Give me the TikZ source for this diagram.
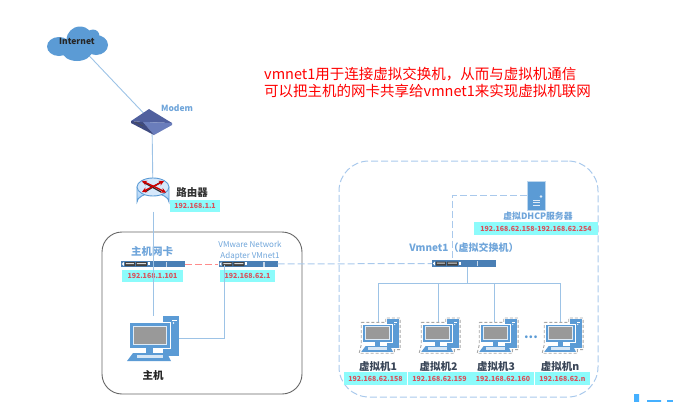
\documentclass[tikz,border=0pt]{standalone}
\usepackage{fontspec}
\setmainfont{Noto Sans CJK SC}
\usetikzlibrary{arrows.meta}
\definecolor{iconblue}{HTML}{5B9BD5}
\definecolor{linkblue}{HTML}{9DC3E6}
\definecolor{dashblue}{HTML}{A9C9EC}
\definecolor{labelblue}{HTML}{6FA5DA}
\definecolor{ipcyan}{HTML}{8CFBFB}
\definecolor{ipred}{HTML}{D9505A}
\definecolor{barblue}{HTML}{4A7FB5}
\definecolor{darklabel}{HTML}{3A4658}
\definecolor{modemdark}{HTML}{50609E}
\definecolor{modemlight}{HTML}{6A7DBB}
\definecolor{modemedge}{HTML}{3E4A80}
\definecolor{scrapblue}{HTML}{45B0FF}
\definecolor{routerpale}{HTML}{D6E8FB}
\definecolor{routerbody}{HTML}{9CCBF5}
\newcommand{\pcbody}{
	\fill[iconblue] (10,-23) rectangle (26,17);
	\fill[white] (19,-19) rectangle (24,-18);
	\fill[white] (20.5,-16) circle (.9);
	\fill[iconblue,draw=white,line width=.5pt] (-24,-17) rectangle (17,9);
	\fill[black!40,draw=white!80!iconblue,line width=.8pt] (-20,-13) rectangle (13,5);
	\fill[iconblue] (-7,9) rectangle (0,14);
	\fill[iconblue] (-20,14) -- (14,14) -- (18,22) -- (-26,22) -- cycle;
	\fill[white!75!iconblue] (-16,15.5) rectangle (10,19);
}
\tikzset{
	link/.style={draw=linkblue, line width=.9pt},
	dashlink/.style={draw=dashblue, line width=1pt, dash pattern=on 7pt off 3pt},
	anchorbox/.style={inner sep=0pt, minimum width=#1},
	ipbox/.style={fill=ipcyan, text=ipred, inner sep=0pt, minimum height=12pt, font=\fontsize{7}{9}\selectfont\bfseries},
	nicbar/.style={fill=barblue, inner sep=0pt, minimum height=6.5pt, minimum width=#1},
	bluelabel/.style={text=labelblue, inner sep=0pt, font=\fontsize{10.5}{12}\selectfont\bfseries},
	darktag/.style={text=darklabel, inner sep=0pt, font=\fontsize{10.5}{12}\selectfont\bfseries},
	nicports/.pic={
		\fill[white] (1,0) -- (3,-2) -- (3,2) -- cycle;
		\fill[black!75] (4,-2) rectangle (14,2) (15,-2) rectangle (26,2);
		\fill[white!85!black] (5,-1) rectangle (13,0) (16,-1) rectangle (25,0);
		\fill[white] (27,-2) rectangle (29,1);
		\fill[white!70!barblue] (45,-2.5) rectangle (46.5,2.5);
	},
	pcicon/.pic={\pcbody},
	vmicon/.pic={
		\draw[black!35,densely dashed,line width=.9pt] (-26,-19) -- (8,-19) -- (8,-25) -- (28,-25) -- (28,19) -- (20,19) -- (20,24) -- (-29,24) -- (-26,12) -- cycle;
		\pcbody
	},
	servericon/.pic={
		\fill[iconblue,draw=white!60!iconblue,line width=.6pt] (-9,-14.5) rectangle (9,14.5);
		\fill[white!80!iconblue] (5,1) circle (1.4);
		\draw[white!80!iconblue,line width=.7pt] (-3,4.5) -- (4,4.5) (-3,7) -- (4,7) (-3,9.5) -- (4,9.5);
	},
	modemicon/.pic={
		\fill[modemdark] (-3,-13) -- (20,1) -- (-9,0) -- (-21,-1) -- cycle;
		\fill[modemlight] (-9,0) -- (20,1) -- (20,3) -- (2,13) -- cycle;
		\fill[modemedge] (-21,-1) -- (-9,0) -- (2,13) -- (-21,1) -- cycle;
		\draw[black!70,line width=.5pt] (-17,0) -- (-9,4);
	},
	routericon/.pic={
		\draw[iconblue,line width=.9pt,top color=routerpale,bottom color=routerbody] (-16,-8) -- (-16,7) arc[start angle=180,end angle=360,x radius=16,y radius=8.5] -- (16,-8) -- cycle;
		\draw[iconblue,line width=.9pt,fill=routerpale] (0,-8) ellipse[x radius=16,y radius=9];
		\draw[black!85,line width=1.2pt] (-10,-13) -- (8,-3) (-8,-3) -- (8,-13);
		\draw[red!80!black,line width=1.4pt,-{Stealth[length=5pt,width=5pt]}] (-2,-7.5) -- (11,-14);
		\draw[red!80!black,line width=1.4pt,-{Stealth[length=5pt,width=5pt]}] (-2,-7.5) -- (-11,-3);
		\draw[red!80!black,line width=1.4pt,-{Stealth[length=5pt,width=5pt]}] (2,-8) -- (13,-2.5);
		\draw[red!80!black,line width=1.4pt,-{Stealth[length=5pt,width=5pt]}] (2,-8) -- (-11,-14);
	},
	cloudicon/.pic={
		\fill[iconblue] (2,-4) circle (13.5);
		\fill[iconblue] (-19,2.5) ellipse[x radius=12,y radius=9.5];
		\fill[iconblue] (18,1) ellipse[x radius=12,y radius=10];
		\fill[iconblue] (15,-8) circle (6.5);
		\fill[iconblue] (-1,7) ellipse[x radius=15,y radius=10];
	},
}
\begin{document}
\begin{tikzpicture}[x=1pt,y=-1pt]
	\useasboundingbox (0,0) rectangle (673,402);
	% top of the network
	\node[anchorbox=60pt, minimum height=34pt] (internet) at (78,44) {};
	\node[anchorbox=40pt, minimum height=26pt] (modem) at (152,122) {};
	\node[anchorbox=33pt, minimum height=33pt] (router) at (153,195) {};
	\node[anchorbox=52pt, minimum height=45pt] (host) at (153,339) {};
	\node[draw=black!60, line width=.9pt, rounded corners=20pt, inner sep=0pt, minimum width=200pt, minimum height=162pt] (hostbox) at (202,313) {};
	\node[dashlink, draw, rounded corners=30pt, inner sep=0pt, minimum width=259pt, minimum height=236pt] (vmbox) at (468.5,279) {};

	\draw[link] (internet.center) -- (modem.center);
	\draw[link] (modem.center) -- (router.center);
	\pic at (internet) {cloudicon};
	\node[inner sep=0pt, font=\fontsize{8.5}{10}\selectfont\bfseries, text=black!85] (inetlabel) at (77,41) {Internet};
	\pic at (modem) {modemicon};
	\node[bluelabel, font=\fontsize{8.5}{10}\selectfont\bfseries] (modemlabel) at (177,108) {Modem};

	% switches and cards
	\node[nicbar=64pt] (nica) at (153,264) {};
	\node[nicbar=59pt] (nicb) at (248,264) {};
	\node[nicbar=64pt] (vsw) at (464,263.5) {};
	\pic at (nica.west) {nicports};
	\pic at (nicb.west) {nicports};
	\pic at (vsw.west) {nicports};
	\draw[dash pattern=on 7pt off 3pt, draw=red!45, line width=1pt] (nica) -- (nicb);
	\draw[dashlink] (nicb) -- (vsw);

	\pic at (router) {routericon};
	\node[inner sep=0pt, text=black!80, font=\fontsize{10.5}{12}\selectfont\bfseries] (routerlabel) at (192,193) {路由器};
	\node[ipbox, minimum width=50pt] (routerip) at (195,206) {192.168.1.1};
	\node[bluelabel] (nicalabel) at (152,251) {主机网卡};
	\node[text=labelblue, inner sep=0pt, align=center, font=\fontsize{8}{11}\selectfont] (nicblabel) at (250,250.5) {VMware Network\\Adapter VMnet1};
	\node[ipbox, minimum width=61pt] (nicaip) at (152.5,275.5) {192.168.1.101};
	\node[ipbox, minimum width=55pt] (nicbip) at (247.5,275.5) {192.168.62.1};

	% host
	\draw[link] (router) -- (host);
	\coordinate (hostport) at (179,338);
	\coordinate (nicbdrop) at (224,265);
	\draw[link] (nicbdrop) |- (hostport);
	\pic at (host) {pcicon};
	\node[inner sep=0pt, text=black!85, font=\fontsize{10.5}{12}\selectfont\bfseries] (hostlabel) at (153,375) {主机};

	% virtual side
	\node[anchorbox=18pt, minimum height=29pt] (dhcp) at (536,195.5) {};
	\coordinate (vswtop) at (452,260);
	\draw[dashlink] (dhcp.west) -| (vswtop);
	\pic at (dhcp) {servericon};
	\node[bluelabel, font=\fontsize{8.8}{10}\selectfont\bfseries] (dhcplabel) at (538,216) {虚拟DHCP服务器};
	\node[ipbox, minimum width=124pt, minimum height=13pt] (dhcpip) at (536,228.5) {192.168.62.158-192.168.62.254};
	\node[bluelabel, font=\fontsize{10}{12}\selectfont\bfseries] (vswlabel) at (464,248) {Vmnet1（虚拟交换机）};

	\node[anchorbox=40pt, minimum height=28pt] (vma) at (378,336) {};
	\node[anchorbox=40pt, minimum height=28pt] (vmb) at (438,336) {};
	\node[anchorbox=40pt, minimum height=28pt] (vmc) at (494,336) {};
	\node[anchorbox=40pt, minimum height=28pt] (vmn) at (560,336) {};
	\coordinate (bus) at (467,283);
	\draw[link] (vsw.south -| bus) -- (bus);
	\draw[link] (bus -| vma) -- (bus -| vmn);
	\foreach \vm in {vma,vmb,vmc,vmn}
		\draw[link] (bus -| \vm) -- (\vm.north);
	\foreach \vm/\dx in {vma/2,vmb/2,vmc/4,vmn/3}
		\pic[scale=.72] at ([xshift=\dx pt]\vm) {vmicon};
	\node[text=iconblue, inner sep=0pt, font=\fontsize{13}{13}\selectfont\bfseries] (dots) at (531,337) {...};

	\node[darktag] (vmatag) at (378,367) {虚拟机1};
	\node[darktag] (vmbtag) at (438.5,367) {虚拟机2};
	\node[darktag] (vmctag) at (496,367) {虚拟机3};
	\node[darktag] (vmntag) at (560,367) {虚拟机n};
	\node[ipbox, minimum width=62.5pt, minimum height=13pt] (vmaip) at (375.5,378.5) {192.168.62.158};
	\node[ipbox, minimum width=64pt, minimum height=13pt] (vmbip) at (439.5,378.5) {192.168.62.159};
	\node[ipbox, minimum width=62pt, minimum height=13pt] (vmcip) at (503,378.5) {192.168.62.160};
	\node[ipbox, minimum width=55pt, minimum height=13pt] (vmnip) at (562.5,378.5) {192.168.62.n};

	% note
	\node[text=red, anchor=west, inner sep=0pt, align=left, font=\fontsize{14.5}{17}\selectfont] (note) at (264,82.5) {vmnet1用于连接虚拟交换机，从而与虚拟机通信\\可以把主机的网卡共享给vmnet1来实现虚拟机联网};

	% scrap at the lower edge
	\fill[scrapblue] (634,394) rectangle (639,402) (647,400) rectangle (661,402) (667,400) rectangle (673,402);
\end{tikzpicture}
\end{document}
